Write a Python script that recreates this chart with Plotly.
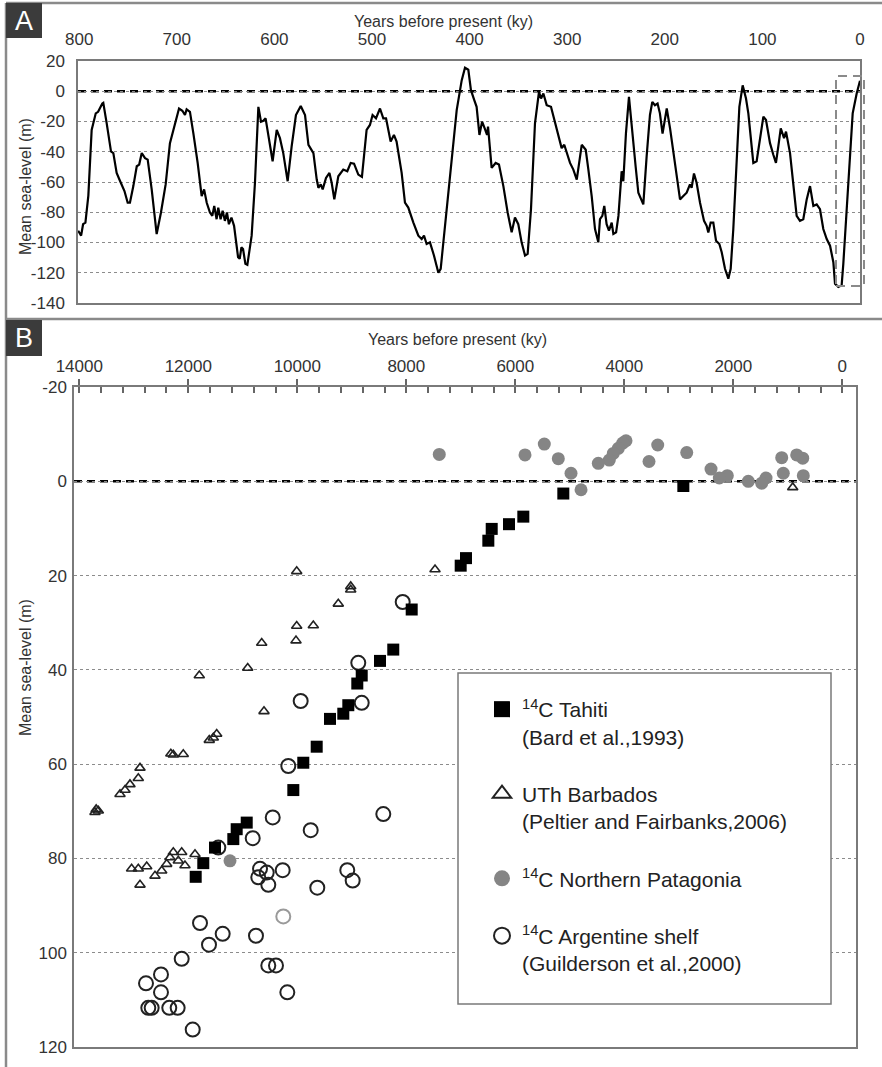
import plotly.graph_objects as go

W, H = 882, 1067
FONT = "Liberation Sans, Arial, sans-serif"
TXT = "#333333"

# ---------------- Panel A: sea-level curve (ky BP, m) ----------------
a_ky = [801, 798, 796, 793.6, 790.6, 787.2, 783, 780.6, 776.3, 775.3, 771.8, 767.4, 765, 761.6, 758,
        753.6, 750.3, 748, 744.5, 741, 738.5, 735.9, 732.5, 729.8, 725.7, 720.6, 716.2, 711.4, 707,
        701.8, 697.7, 694.3, 691.6, 689.9, 686.5, 683, 678.6, 674.5, 672, 669.3, 666, 663.6, 661.6,
        659.2, 657.5, 655.1, 653, 650.7, 648.6, 646.6, 644, 641.3, 638.9, 637.2, 635.5, 633.8, 632.1,
        629.7, 627.7, 625, 623.3, 619.9, 616.4, 613.7, 611.3, 609, 605.3, 601.8, 597.6, 594.3, 590.9,
        586.4, 582.3, 577.9, 573, 568.6, 565.1, 560, 556.6, 554.9, 552.5, 550.5, 547.1, 543.6, 541.3,
        538.6, 534.5, 529.4, 525.3, 521.8, 518.4, 514, 510.3, 505.5, 502.1, 499.4, 495.9, 491.8, 488.4,
        485.6, 480.9, 477.5, 474.8, 469.6, 466.2, 462.8, 457.6, 452.5, 449.1, 446.7, 444, 440.6, 436.5,
        432, 429.6, 425.2, 419.4, 413.2, 408.1, 404.7, 401.3, 398.6, 395.2, 392.8, 389.9, 387.2, 384.5,
        382.1, 381.1, 377.4, 373.3, 369.9, 365.4, 361, 356.9, 353.5, 350.1, 346.7, 343.2, 340.5, 337.1,
        333, 328.9, 326.8, 324.4, 321, 316.6, 312.5, 308.4, 305.7, 303, 300.6, 297.1, 293.7, 290.2,
        285.1, 281, 278.3, 274.9, 271.5, 268.1, 266.4, 264, 262, 259.6, 257.2, 254.4, 252.7, 249.9,
        247.5, 244.2, 242.5, 239.8, 236.7, 234, 229.9, 227.1, 224.4, 222, 218.6, 215.2, 212.8, 210.1,
        207.4, 205, 202.3, 198, 194.6, 191.3, 187.8, 184.4, 181, 177.6, 174.2, 172.5, 170.1, 167.4,
        163.9, 159.8, 157.1, 155.4, 153, 150.3, 147.5, 144.1, 141.7, 138.3, 134.9, 132.5, 129.8, 126.4,
        123.6, 120.2, 116.8, 114.4, 112, 109.3, 105.9, 102.5, 99, 96.3, 92.2, 88.8, 86.1, 83.7, 81.2,
        77.8, 75.8, 71.7, 68.3, 64.9, 61.5, 58.1, 54.6, 51.2, 47.8, 44.4, 41, 37.6, 34.1, 30.7, 27.3,
        25.6, 22.2, 18.8, 17.1, 14.3, 11, 7.5, 3.4, 0]
a_sl = [-92.2, -95.5, -87.9, -86.8, -69, -25.6, -14.6, -13.6, -8.1, -7.7, -21.2, -39.8, -40.9, -54, -59.5,
        -66, -73.7, -73.7, -62.7, -49.6, -48.5, -40.9, -44.2, -45.2, -64.9, -94.4, -80.2, -61.6, -34.3,
        -21.2, -11.4, -12.9, -15.7, -12, -13.6, -27.8, -47.4, -69.3, -64.9, -73.7, -80.2, -82.4, -75.8,
        -84.6, -77, -84.6, -79, -85.7, -80.2, -87.9, -83.5, -89, -99.9, -109.7, -110.8, -103.2, -104.3,
        -114.1, -114.8, -104.3, -95.5, -60.5, -10.3, -20.1, -19.5, -17.9, -32.1, -46.3, -25.6, -31, -40.9,
        -59.5, -36.5, -15.7, -9.8, -15.7, -35.4, -40.9, -58.4, -63.8, -61.6, -64.9, -57.3, -54, -60.5,
        -71.5, -56.2, -51.8, -52.9, -47.4, -47.9, -55.1, -56.6, -25.6, -22.3, -15.7, -17.9, -11.4, -17.9,
        -17.9, -33.2, -28.9, -33.2, -54, -73.7, -76.9, -86.8, -95.5, -97.7, -95.5, -101, -99.9, -108.6,
        -120, -117.4, -89, -49.6, -12.5, 7.2, 15.5, 14.2, 0.7, -5.9, -10.3, -28.9, -20.1, -24.5,
        -28.9, -23.4, -50.7, -47.4, -48.5, -62.7, -80.2, -93.3, -83.5, -87.9, -99.9, -108.6, -107.5, -78,
        -21.2, -0.4, -4.8, -1.5, -9.2, -10.3, -20.1, -29.9, -37.6, -35.4, -39.8, -47.4, -51.8, -58.4,
        -35.4, -38.7, -51.8, -69.3, -91.1, -99.9, -84.6, -82.4, -75.8, -87.9, -92.2, -86.8, -94.4, -93.3,
        -82.4, -52.9, -59.5, -27.8, -3.7, -23.4, -49.6, -67.1, -71.5, -74.8, -43.1, -15.7, -7, -9.2,
        -8.1, -14.6, -28, -11.4, -24.5, -40.9, -56.2, -71.5, -69.3, -67.1, -61.6, -63.8, -54.4, -60.5,
        -73.7, -85.7, -89, -93.3, -86.8, -86.8, -98.8, -101, -106.4, -117.4, -123.9, -117.4, -91.1, -43.1,
        -10.3, 3.9, -4.8, -14.6, -32.1, -47.4, -46.3, -32.1, -16.8, -19, -34.3, -42, -47.4, -36.5, -24.5,
        -31, -26.7, -40.9, -60.5, -82.4, -85.7, -84.6, -71.5, -62.7, -75.8, -74.8, -78, -91.1, -97.7, -102.1, -113,
        -127.2, -129.4, -128.3, -114.1, -86.8, -47.4, -14.6, -1.5, 7]
a_xticks = [800, 700, 600, 500, 400, 300, 200, 100, 0]
a_xlabels = ["800", "700", "600", "500", "400", "300", "200", "100", "0"]
a_yticks = [20, 0, -20, -40, -60, -80, -100, -120, -140]
a_ylabels = ["20", "0", "-20", "-40", "-60", "-80", "-100", "-120", "-140"]

# ---------------- Panel B: Holocene sea-level indicators (yr BP, m) ----------------
tahiti_yr = [2917, 5119, 5853, 6116, 6433, 6495, 6905, 7002, 7901, 8239, 8483, 8818, 8899, 9064, 9156,
             9400, 9644, 9890, 10073, 10928, 11112, 11174, 11510, 11725, 11864]
tahiti_sl = [1.0, 2.6, 7.5, 9.1, 10.1, 12.6, 16.3, 17.9, 27.2, 35.7, 38.1, 41.2, 42.9, 47.5, 49.3,
             50.4, 56.3, 59.7, 65.5, 72.4, 73.8, 75.9, 77.7, 81.0, 83.9]

barbados_yr = [910, 7473, 9020, 9020, 9248, 9706, 10011, 10011, 10024, 10611, 10653, 10910, 11479, 11541,
               11615, 11798, 12092, 12275, 12320, 12886, 12917, 13070, 13161, 13253, 13651, 13690, 13712,
               11877, 12061, 12121, 12183, 12275, 12336, 12396, 12488, 12611, 12763, 12886, 12917, 13040]
barbados_sl = [1.3, 18.7, 22.3, 23.0, 26.0, 30.6, 19.1, 30.7, 33.8, 48.8, 34.3, 39.6, 53.6, 54.4,
               54.9, 41.2, 57.9, 58.0, 57.8, 60.8, 63.0, 64.3, 65.5, 66.4, 69.9, 69.6, 70.2,
               79.1, 81.5, 78.7, 80.5, 78.7, 79.8, 81.2, 82.6, 83.7, 81.7, 85.6, 82.2, 82.2]

patagonia_yr = [716, 727, 837, 1083, 1112, 1400, 1479, 1725, 2110, 2257, 2409, 2855, 3387, 3547, 3969,
                4029, 4110, 4202, 4275, 4477, 4794, 4978, 5211, 5468, 5822, 7395, 11235]
patagonia_sl = [-1.2, -4.9, -5.6, -1.7, -5.0, -0.7, 0.4, 0.0, -1.2, -0.7, -2.6, -6.1, -7.7, -4.2, -8.6,
                -8.1, -7.0, -5.9, -4.5, -3.8, 1.8, -1.7, -4.8, -7.9, -5.6, -5.7, 80.5]

argentine_yr = [8066, 8422, 8818, 8881, 8984, 9083, 9633, 9754, 9938, 10165, 10183, 10268, 10391, 10451,
                10532, 10532, 10561, 10684, 10716, 10758, 10818, 11369, 11449, 11620, 11785, 11919, 12121,
                12195, 12349, 12501, 12501, 12672, 12734, 12776]
argentine_sl = [25.6, 70.6, 47.0, 38.5, 84.7, 82.5, 86.2, 74.0, 46.6, 60.4, 108.4, 82.5, 102.7, 71.3,
                85.6, 102.7, 83.0, 82.2, 84.0, 96.4, 75.7, 96.0, 77.7, 98.3, 93.7, 116.3, 101.3,
                111.7, 111.7, 104.6, 108.4, 111.7, 111.7, 106.5]
argentine_faint_yr = [10257]
argentine_faint_sl = [92.3]

b_xticks = [14000, 12000, 10000, 8000, 6000, 4000, 2000, 0]
b_xlabels = ["14000", "12000", "10000", "8000", "6000", "4000", "2000", "0"]
b_yticks = [-20, 0, 20, 40, 60, 80, 100, 120]
b_ylabels = ["-20", "0", "20", "40", "60", "80", "100", "120"]

legend_names = ["<sup>14</sup>C Tahiti<br>(Bard et al.,1993)",
                "UTh Barbados<br>(Peltier and Fairbanks,2006)",
                "<sup>14</sup>C Northern Patagonia",
                "<sup>14</sup>C Argentine shelf<br>(Guilderson et al.,2000)"]


def px(v):
    return v / W


def py(v):
    return 1 - v / H


fig = go.Figure()

# Panel A curve
fig.add_trace(go.Scatter(x=a_ky, y=a_sl, mode="lines", line=dict(color="black", width=2.2),
                         xaxis="x", yaxis="y", showlegend=False, hoverinfo="skip"))

# Panel B scatter
fig.add_trace(go.Scatter(x=argentine_yr, y=argentine_sl, mode="markers", xaxis="x2", yaxis="y2",
                         marker=dict(symbol="circle-open", size=14, color="#222222", line=dict(width=2)),
                         showlegend=False))
fig.add_trace(go.Scatter(x=argentine_faint_yr, y=argentine_faint_sl, mode="markers", xaxis="x2", yaxis="y2",
                         marker=dict(symbol="circle-open", size=14, color="#9a9a9a", line=dict(width=2)),
                         showlegend=False))
fig.add_trace(go.Scatter(x=barbados_yr, y=barbados_sl, mode="markers", xaxis="x2", yaxis="y2",
                         marker=dict(symbol="triangle-up-open", size=9, color="#222222", line=dict(width=1.6)),
                         showlegend=False))
fig.add_trace(go.Scatter(x=tahiti_yr, y=tahiti_sl, mode="markers", xaxis="x2", yaxis="y2",
                         marker=dict(symbol="square", size=12, color="black", line=dict(width=0)),
                         showlegend=False))
fig.add_trace(go.Scatter(x=patagonia_yr, y=patagonia_sl, mode="markers", xaxis="x2", yaxis="y2",
                         marker=dict(symbol="circle", size=13, color="#858585", line=dict(width=0)),
                         showlegend=False))

# legend-only entries (no data points)
leg_styles = [dict(symbol="square", size=18, color="black", line=dict(width=0)),
              dict(symbol="triangle-up-open", size=18, color="#222222", line=dict(width=2)),
              dict(symbol="circle", size=18, color="#858585", line=dict(width=0)),
              dict(symbol="circle-open", size=18, color="#222222", line=dict(width=2))]
for i, (nm, st) in enumerate(zip(legend_names, leg_styles)):
    fig.add_trace(go.Scatter(x=[None], y=[None], mode="markers", xaxis="x2", yaxis="y2",
                             marker=st, name=nm, legendgroup=f"g{i}", showlegend=True))

# invisible trace on the overlay axis that carries the crossing major ticks
fig.add_trace(go.Scatter(x=[None], y=[None], xaxis="x3", yaxis="y2", showlegend=False))

axis_common = dict(showline=True, mirror=True, linecolor="#7a7a7a", linewidth=1.5, automargin=False,
                   tickfont=dict(family=FONT, size=17, color=TXT))

fig.update_layout(
    template="none",
    width=W, height=H, margin=dict(l=0, r=0, t=0, b=0, pad=0, autoexpand=False),
    paper_bgcolor="white", plot_bgcolor="white",
    font=dict(family=FONT, color=TXT),
    xaxis=dict(domain=[px(78), px(860)], range=[801.2, 0], anchor="y", side="top",
               tickmode="array", tickvals=a_xticks, ticktext=a_xlabels, ticks="outside", ticklen=7,
               tickcolor="rgba(0,0,0,0)", showgrid=False, zeroline=False, **axis_common),
    yaxis=dict(domain=[py(303), py(61)], range=[-140, 20], anchor="x",
               tickmode="array", tickvals=a_yticks, ticktext=a_ylabels, ticks="outside", ticklen=8,
               tickcolor="rgba(0,0,0,0)", showgrid=True, gridcolor="#8c8c8c", griddash="dot",
               gridwidth=1, zeroline=False, **axis_common),
    xaxis2=dict(domain=[px(74), px(856)], range=[14097, -251], anchor="y2", side="top",
                tickmode="array", tickvals=b_xticks, ticktext=b_xlabels, ticks="outside", ticklen=6,
                tickcolor="#666666", tickwidth=1.5,
                minor=dict(tickmode="linear", tick0=0, dtick=400, ticks="inside", ticklen=6,
                           tickcolor="#666666", tickwidth=1.5, showgrid=False),
                showgrid=False, zeroline=False, **axis_common),
    xaxis3=dict(domain=[px(74), px(856)], range=[14097, -251], anchor="y2", side="top",
                overlaying="x2", tickmode="array", tickvals=b_xticks, ticks="inside", ticklen=6,
                tickcolor="#666666", tickwidth=1.5, showticklabels=False, showline=False,
                showgrid=False, zeroline=False, automargin=False),
    yaxis2=dict(domain=[py(1047), py(387)], range=[120, -20], anchor="x2",
                tickmode="array", tickvals=b_yticks, ticktext=b_ylabels, ticks="outside", ticklen=2,
                tickcolor="rgba(0,0,0,0)", showgrid=True, gridcolor="#8c8c8c", griddash="dot",
                gridwidth=1, zeroline=False, **axis_common),
    legend=dict(x=px(482), y=py(689), xanchor="left", yanchor="top",
                bgcolor="rgba(0,0,0,0)", borderwidth=0,
                font=dict(family=FONT, size=21, color="#222222"),
                traceorder="grouped", tracegroupgap=27, valign="top", itemsizing="trace"),
    showlegend=True,
)

shapes = []
# panel frames
frame = dict(color="#8a8a8a", width=2.5)
shapes.append(dict(type="line", xref="paper", yref="paper", x0=px(6), x1=px(6), y0=py(3), y1=py(1067), line=frame))
shapes.append(dict(type="line", xref="paper", yref="paper", x0=px(6), x1=1, y0=py(3), y1=py(3), line=frame))
shapes.append(dict(type="line", xref="paper", yref="paper", x0=px(6), x1=1, y0=py(319), y1=py(319), line=frame))
# panel label boxes
for y0, y1 in [(3, 38), (320, 356)]:
    shapes.append(dict(type="rect", xref="paper", yref="paper", x0=px(6), x1=px(42), y0=py(y1), y1=py(y0),
                       fillcolor="#3b3b3b", line=dict(width=0)))
# zero reference lines
shapes.append(dict(type="line", xref="x domain", yref="y", x0=0, x1=1, y0=0, y1=0, layer="below",
                   line=dict(color="black", width=2.5, dash="8px,5px")))
shapes.append(dict(type="line", xref="x2 domain", yref="y2", x0=0, x1=1, y0=0, y1=0, layer="below",
                   line=dict(color="black", width=2.5, dash="8px,5px")))
# dashed box (last glacial cycle, enlarged in B)
shapes.append(dict(type="rect", xref="paper", yref="paper", x0=px(836), x1=px(864), y0=py(286), y1=py(76),
                   line=dict(color="#8a8a8a", width=2, dash="9px,6px")))
# legend frame
shapes.append(dict(type="rect", xref="paper", yref="paper", x0=px(458), x1=px(831), y0=py(1004), y1=py(673),
                   fillcolor="white", layer="above", line=dict(color="#7a7a7a", width=1.5)))
fig.update_layout(shapes=shapes)

ann = []
ann.append(dict(text="Years before present (ky)", x=px(443), y=py(21), xref="paper", yref="paper",
                showarrow=False, font=dict(size=16, color=TXT, family=FONT), xanchor="center", yanchor="middle"))
ann.append(dict(text="Years before present (ky)", x=px(458), y=py(339), xref="paper", yref="paper",
                showarrow=False, font=dict(size=16, color=TXT, family=FONT), xanchor="center", yanchor="middle"))
ann.append(dict(text="Mean sea-level (m)", x=px(25), y=py(187), xref="paper", yref="paper", textangle=-90,
                showarrow=False, font=dict(size=16, color=TXT, family=FONT), xanchor="center", yanchor="middle"))
ann.append(dict(text="Mean sea-level (m)", x=px(25), y=py(668), xref="paper", yref="paper", textangle=-90,
                showarrow=False, font=dict(size=16, color=TXT, family=FONT), xanchor="center", yanchor="middle"))
ann.append(dict(text="A", x=px(24), y=py(21), xref="paper", yref="paper", showarrow=False,
                font=dict(size=27, color="white", family=FONT), xanchor="center", yanchor="middle"))
ann.append(dict(text="B", x=px(24), y=py(338), xref="paper", yref="paper", showarrow=False,
                font=dict(size=27, color="white", family=FONT), xanchor="center", yanchor="middle"))
fig.update_layout(annotations=ann)

fig.write_html("out.html", config={"displayModeBar": False},
               post_script="document.body.style.margin='0px';")
